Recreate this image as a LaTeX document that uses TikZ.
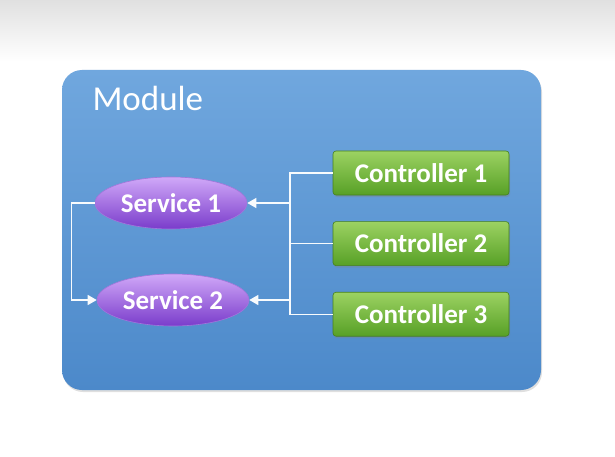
\documentclass[tikz,border=0pt]{standalone}
\usepackage{fontspec}
\setmainfont{Carlito}
\usetikzlibrary{shapes.geometric,arrows.meta,shadows,positioning}

\definecolor{boxtop}{HTML}{70A7DE}
\definecolor{boxbot}{HTML}{4C89CA}
\definecolor{svctop}{HTML}{D0A8F8}
\definecolor{svcmid}{HTML}{9C5AE6}
\definecolor{svcbot}{HTML}{7A3CCB}
\definecolor{ctrtop}{HTML}{9CD262}
\definecolor{ctrbot}{HTML}{57A026}

\begin{document}
\begin{tikzpicture}[
        x=1pt, y=-1pt,
    svc/.style={ellipse, minimum width=152pt, minimum height=52pt, inner sep=0pt,
        draw=svcbot!70, line width=0.6pt,
        top color=svctop, middle color=svcmid, bottom color=svcbot,
        text=white, font=\bfseries\fontsize{27}{30}\selectfont},
    ctrl/.style={rectangle, rounded corners=3pt, minimum width=176pt, minimum height=44pt,
        inner sep=0pt, draw=ctrbot!80!black, line width=0.6pt,
        top color=ctrtop, bottom color=ctrbot,
        drop shadow={opacity=0.35, shadow xshift=1pt, shadow yshift=-2pt},
        text=white, font=\bfseries\fontsize{27}{30}\selectfont},
    link/.style={draw=white!95!boxtop, line width=1.4pt},
    tip/.style={-{Triangle[length=9pt,width=10pt]}}
]
\useasboundingbox (0,0) rectangle (615,457);
\fill[white] (0,0) rectangle (615,457);
\fill[top color=black!12, bottom color=white] (0,0) rectangle (615,62);

    % module frame
    \node (mod) [rounded corners=20pt, minimum width=479pt, minimum height=320pt,
        top color=boxtop, bottom color=boxbot,
        drop shadow={opacity=0.25, shadow xshift=1pt, shadow yshift=-2pt}] at (301.5,230) {};
    \node (modlbl) [anchor=west, text=white, font=\fontsize{35}{38}\selectfont] at (89,98) {Module};

    % services
    \node (s1) [svc] at (171,203) {Service 1};
    \node (s2) [svc] at (173,300) {Service 2};

    % controllers
    \node (c1) [ctrl] at (421,173) {Controller 1};
    \node (c2) [ctrl, below=26pt of c1] {Controller 2};
    \node (c3) [ctrl, below=26pt of c2] {Controller 3};

    \coordinate (bus) at (290,0);

    \draw [link, tip] (s1.west) -- ++(-23,0) |- (s2.west);
    \draw [link] (c1.west) -- (c1.west -| bus) -- (c3.west -| bus) -- (c3.west);
    \draw [link] (c2.west) -- (c2.west -| bus);
    \draw [link, tip] (s1.east -| bus) -- (s1.east);
    \draw [link, tip] (s2.east -| bus) -- (s2.east);
\end{tikzpicture}
\end{document}
